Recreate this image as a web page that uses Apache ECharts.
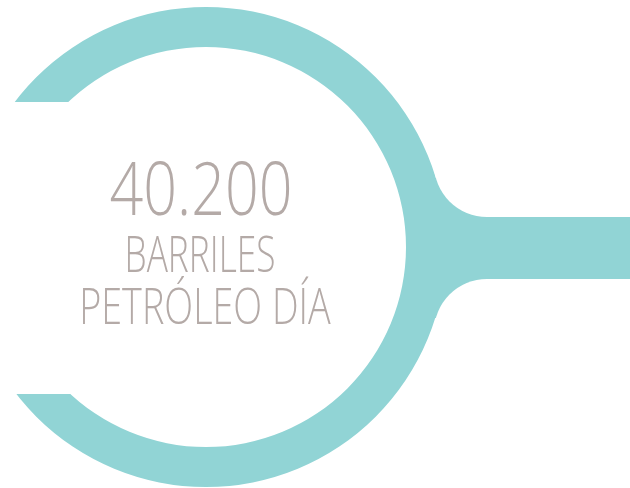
<!DOCTYPE html>
<html>
<head>
<meta charset="utf-8">
<script src="https://cdn.jsdelivr.net/npm/echarts@6/dist/echarts.min.js"></script>
<style>
  html, body { margin: 0; padding: 0; background: #fff; }
  #main { width: 630px; height: 488px; }
</style>
</head>
<body>
<div id="main"></div>
<script>
// datos del indicador
var valor = ['40.200'];
var etiquetas = ['BARRILES', 'PETRÓLEO DÍA'];
var anillo = [1];

var teal = '#91d4d5';
var gris = '#b4aaa7';
var cx = 206, cy = 247;

var chart = echarts.init(document.getElementById('main'));

var option = {
  backgroundColor: '#fff',
  animation: false,
  series: [
    {
      type: 'pie',
      silent: true,
      center: [cx, cy],
      radius: [200, 240],
      label: { show: false },
      labelLine: { show: false },
      itemStyle: { color: teal },
      data: anillo.map(function (v) { return { value: v, name: 'anillo' }; })
    }
  ],
  graphic: [
    // corte del anillo a la izquierda
    { type: 'rect', z: 100, shape: { x: 0, y: 102, width: 90, height: 292 }, style: { fill: '#fff' } },
    // barra horizontal
    { type: 'rect', z: 50, shape: { x: 420, y: 217, width: 220, height: 62 }, style: { fill: teal } },
    // uniones redondeadas (desde el punto de tangencia)
    { type: 'rect', z: 40, shape: { x: 435, y: 178, width: 52, height: 40 }, style: { fill: teal } },
    { type: 'circle', z: 45, shape: { cx: 487, cy: 164, r: 53 }, style: { fill: '#fff' } },
    { type: 'rect', z: 40, shape: { x: 435, y: 278, width: 52, height: 40 }, style: { fill: teal } },
    { type: 'circle', z: 45, shape: { cx: 487, cy: 332, r: 53 }, style: { fill: '#fff' } },
    // textos
    {
      type: 'text', z: 200, x: 201, y: 194, scaleX: 0.8,
      style: { text: valor[0], fill: gris, font: '300 74px "Open Sans"', textAlign: 'center', textVerticalAlign: 'middle' }
    },
    {
      type: 'text', z: 200, x: 200, y: 258, scaleX: 0.72,
      style: { text: etiquetas[0], fill: gris, font: '300 49px "Open Sans"', textAlign: 'center', textVerticalAlign: 'middle' }
    },
    {
      type: 'text', z: 200, x: 205, y: 310, scaleX: 0.77,
      style: { text: etiquetas[1], fill: gris, font: '300 49px "Open Sans"', textAlign: 'center', textVerticalAlign: 'middle' }
    }
  ]
};

chart.setOption(option);
</script>
</body>
</html>
